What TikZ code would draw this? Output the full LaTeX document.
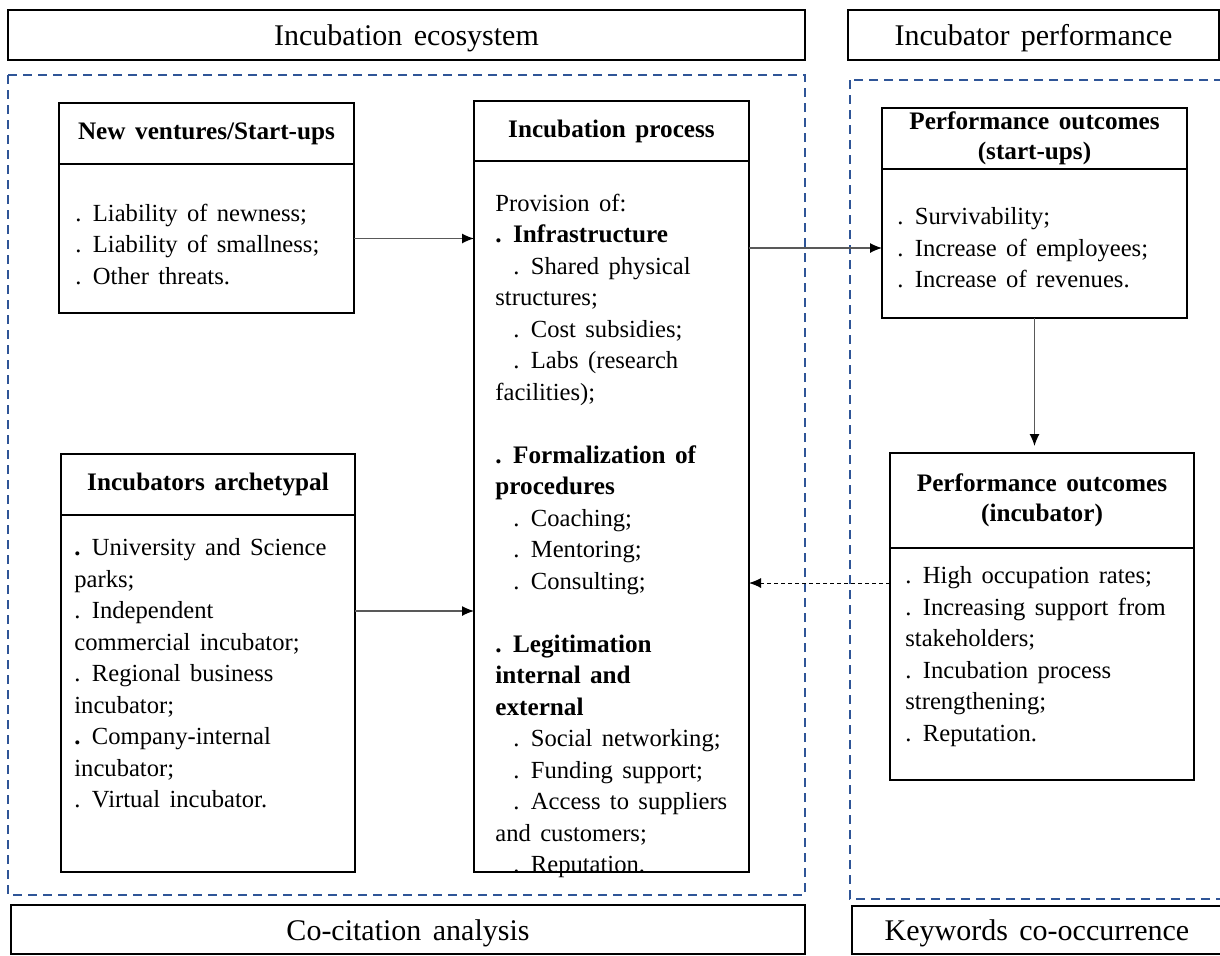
\documentclass[tikz,border=0pt]{standalone}
\usepackage{fontspec}
\setmainfont{Liberation Serif}
\usetikzlibrary{arrows.meta,positioning,calc}

\definecolor{zonecol}{RGB}{47,85,151}
\newcommand{\widesp}{\spaceskip=0.38em plus 0.1em minus 0.05em\relax}
\newcommand{\keyitem}[1]{{\fontsize{12.6}{15.75}\selectfont\bfseries #1}}

\tikzset{
  bar/.style={draw, line width=0.9pt, minimum height=25pt, inner sep=0pt, outer sep=0pt, text height=10.5pt, text depth=0pt, font=\fontsize{15}{18}\selectfont\widesp},
  hd/.style={draw, line width=0.9pt, inner sep=0pt, outer sep=0pt, align=center, font=\fontsize{12.6}{15}\selectfont\bfseries\widesp},
  bd/.style={draw, line width=0.9pt, inner sep=0pt, outer sep=0pt},
  txt/.style={anchor=north west, inner sep=0pt, align=left, font=\fontsize{12.3}{15.75}\selectfont\widesp},
  zone/.style={draw=zonecol, line width=0.8pt, dash pattern=on 4.5pt off 3pt},
  link/.style={draw=black!65, line width=0.6pt, -{Latex[length=6pt,width=5pt,color=black]}},
  fback/.style={line width=0.5pt, dash pattern=on 2pt off 1.5pt, -{Latex[length=6pt,width=5pt]}}
}

\begin{document}
\begin{tikzpicture}[x=0.5pt,y=-0.5pt]
    \useasboundingbox (0,0) rectangle (1220,955);

    % Header and footer bars
    \node[bar, minimum width=398.5pt] (eco) at (406.5,35) {Incubation ecosystem};
    \node[bar, minimum width=185.5pt] (perf) at (1033.5,35) {Incubator performance};
    \node[bar, minimum width=397pt, minimum height=24.5pt] (cocit) at (408,929.5) {Co-citation analysis};
    \node[bar, minimum width=185pt, minimum height=24pt] (keyw) at (1037,930) {Keywords co-occurrence};

    % Dashed zones
    \draw[zone] (8,75) rectangle (805,895);
    \draw[zone] (850,80) rectangle (1230,899);

    % New ventures box
    \node[hd, minimum width=147.5pt, minimum height=30.5pt] (nvhead) at (206.5,133.5) {New ventures/Start-ups};
    \node[bd, minimum width=147.5pt, minimum height=74.5pt, below=0pt of nvhead] (nvbody) {};
    \node[txt] (nvtext) at ([shift={(8pt,-19.75pt)}]nvbody.north west) {. Liability of newness;\\
    . Liability of smallness;\\
    . Other threats.};

    % Incubators archetypal box
    \node[hd, minimum width=147pt, minimum height=30.5pt] (archhead) at (208,484.5) {Incubators archetypal};
    \node[bd, minimum width=147pt, minimum height=178.5pt, below=0pt of archhead] (archbody) {};
    \node[txt] (archtext) at ([shift={(6.5pt,-11.75pt)}]archbody.north west) {\textbf{.} University and Science\\
    parks;\\
    . Independent\\
    commercial incubator;\\
    . Regional business\\
    incubator;\\
    \textbf{.} Company-internal\\
    incubator;\\
    . Virtual incubator.};

    % Incubation process box
    \node[hd, minimum width=137.5pt, minimum height=30pt] (prochead) at (611.5,131) {Incubation process};
    \node[bd, minimum width=137.5pt, minimum height=355.5pt, below=0pt of prochead] (procbody) {};
    \node[txt] (proctext) at ([shift={(10.5pt,-16.25pt)}]procbody.north west) {Provision of:\\
    \keyitem{. Infrastructure}\\
    \hspace*{9pt}. Shared physical\\
    structures;\\
    \hspace*{9pt}. Cost subsidies;\\
    \hspace*{9pt}. Labs (research\\
    facilities);\\[15.75pt]
    \keyitem{. Formalization of}\\
    \keyitem{procedures}\\
    \hspace*{9pt}. Coaching;\\
    \hspace*{9pt}. Mentoring;\\
    \hspace*{9pt}. Consulting;\\[15.75pt]
    \keyitem{. Legitimation}\\
    \keyitem{internal and}\\
    \keyitem{external}\\
    \hspace*{9pt}. Social networking;\\
    \hspace*{9pt}. Funding support;\\
    \hspace*{9pt}. Access to suppliers\\
    and customers;\\
    \hspace*{9pt}. Reputation.};

    % Performance outcomes (start-ups) box
    \node[hd, minimum width=152.5pt, minimum height=30.5pt] (pshead) at (1034.5,138.5) {Performance outcomes\\(start-ups)};
    \node[bd, minimum width=152.5pt, minimum height=74.5pt, below=0pt of pshead] (psbody) {};
    \node[txt] (pstext) at ([shift={(7.5pt,-19.25pt)}]psbody.north west) {. Survivability;\\
    . Increase of employees;\\
    . Increase of revenues.};

    % Performance outcomes (incubator) box
    \node[hd, minimum width=152pt, minimum height=47.5pt] (pihead) at (1042,500.5) {Performance outcomes\\(incubator)};
    \node[bd, minimum width=152pt, minimum height=116pt, below=0pt of pihead] (pibody) {};
    \node[txt] (pitext) at ([shift={(7.5pt,-9.25pt)}]pibody.north west) {. High occupation rates;\\
    . Increasing support from\\
    stakeholders;\\
    . Incubation process\\
    strengthening;\\
    . Reputation.};

    % Connectors
    \coordinate (archout) at ([yshift=-48pt]archbody.north east);
    \coordinate (procout) at ([yshift=-43.5pt]procbody.north east);
    \coordinate (fb) at ([yshift=-17.5pt]pibody.north west);
    \draw[link] (nvbody.east) -- (nvbody.east -| procbody.west);
    \draw[link] (archout) -- (archout -| procbody.west);
    \draw[link] (procout) -- (procout -| psbody.west);
    \draw[link, shorten >=3.5pt] (psbody.south) -- (psbody.south |- pihead.north);
    \draw[fback] (fb) -- (fb -| procbody.east);
\end{tikzpicture}
\end{document}
